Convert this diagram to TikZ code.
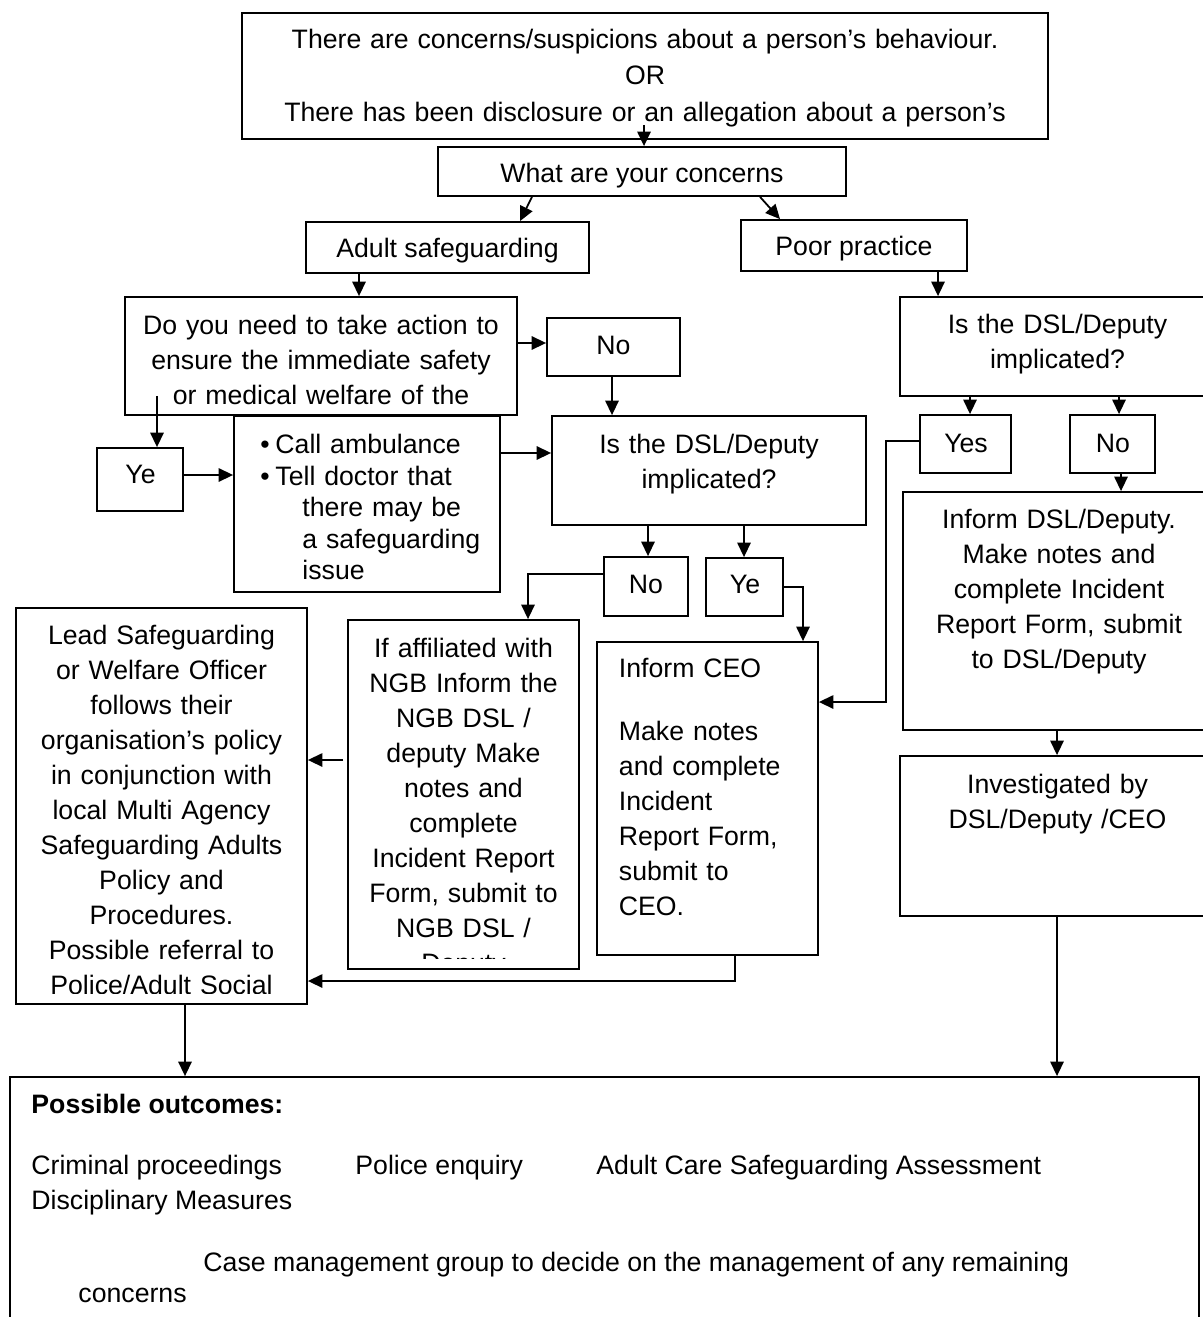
\documentclass[tikz,border=0pt]{standalone}
\usepackage{fontspec}
\setmainfont{Liberation Sans}
\usepackage{tikz}
\usetikzlibrary{arrows.meta, calc}
\tikzset{>={Triangle[length=6.5pt, width=6pt]}}
\newcommand{\pxu}{0.45pt}
\tikzset{
  box/.style={draw, line width=0.8pt, inner sep=0pt},
  txt/.style={inner sep=0pt, font=\fontsize{12}{15.75}\selectfont},
  link/.style={->, line width=0.8pt},
}

\begin{document}
\begin{tikzpicture}[x=\pxu, y=-\pxu]

        \useasboundingbox (0,0) rectangle (1203,1317);
        \clip (0,0) rectangle (1203,1317);

        % boxes
        \node[box, minimum width=806*\pxu, minimum height=126*\pxu] (concern) at (645,76) {};
        \node[box, minimum width=408*\pxu, minimum height=49*\pxu] (what) at (642,171.5) {};
        \node[box, minimum width=283*\pxu, minimum height=51*\pxu] (adult) at (447.5,247.5) {};
        \node[box, minimum width=226*\pxu, minimum height=51*\pxu] (poor) at (854,245.5) {};
        \node[box, minimum width=392*\pxu, minimum height=118*\pxu] (action) at (321,356) {};
        \node[box, minimum width=133*\pxu, minimum height=58*\pxu] (noA) at (613.5,347) {};
        \node[box, minimum width=86*\pxu, minimum height=63*\pxu] (yesA) at (140,479.5) {};
        \node[box, minimum width=266*\pxu, minimum height=176*\pxu] (ambulance) at (367,504) {};
        \node[box, minimum width=314*\pxu, minimum height=109*\pxu] (dslL) at (709,470.5) {};
        \node[box, minimum width=84*\pxu, minimum height=59*\pxu] (noL) at (646,586.5) {};
        \node[box, minimum width=77*\pxu, minimum height=58*\pxu] (yesL) at (744.5,587) {};
        \node[box, minimum width=315*\pxu, minimum height=99*\pxu] (dslR) at (1057.5,346.5) {};
        \node[box, minimum width=91*\pxu, minimum height=58*\pxu] (yesR) at (965.5,444) {};
        \node[box, minimum width=85*\pxu, minimum height=58*\pxu] (noR) at (1112.5,444) {};
        \node[box, minimum width=312*\pxu, minimum height=238*\pxu] (informR) at (1059,611) {};
        \node[box, minimum width=315*\pxu, minimum height=160*\pxu] (investR) at (1057.5,836) {};
        \node[box, minimum width=291*\pxu, minimum height=396*\pxu] (lead) at (161.5,806) {};
        \node[box, minimum width=231*\pxu, minimum height=349*\pxu] (ngb) at (463.5,794.5) {};
        \node[box, minimum width=221*\pxu, minimum height=313*\pxu] (ceo) at (707.5,798.5) {};
        \node[box, minimum width=1189*\pxu, minimum height=253*\pxu] (outcomes) at (604.5,1203.5) {};

        % texts
        \node[txt, text width=360pt, align=center, anchor=north, font=\fontsize{12}{16.4}\selectfont]
            (concernT) at (645,22.5)
            {\strut There are concerns/suspicions about a person’s behaviour.\\
             OR\\
             There has been disclosure or an allegation about a person’s};
        \node[txt, anchor=base] (whatT) at (642,183) {What are your concerns};
        \begin{scope}
            \clip (306,222) rectangle (589,263);
            \node[txt, anchor=base] (adultT) at (447.5,257) {Adult safeguarding};
        \end{scope}
        \node[txt, anchor=base] (poorT) at (854,256) {Poor practice};
        \node[txt, text width=171pt, align=center, anchor=north] (actionT) at (321,309.5)
            {\strut Do you need to take action to\\
             ensure the immediate safety\\
             or medical welfare of the};
        \node[txt, anchor=base] (noAT) at (613.5,354) {No};
        \node[txt, anchor=base] (yesAT) at (140.5,483) {Ye};
        \node[txt, text width=112pt, align=left, anchor=north west, font=\fontsize{12}{14.2}\selectfont]
            (ambulanceT) at (260,431)
            {\strut\makebox[6.75pt][l]{\textbullet}Call ambulance\\
             \makebox[6.75pt][l]{\textbullet}Tell doctor that\\
             \hspace*{18.9pt}there may be\\
             \hspace*{18.9pt}a safeguarding\\
             \hspace*{18.9pt}issue};
        \node[txt, text width=135pt, align=center, anchor=north] (dslLT) at (709,428.5)
            {\strut Is the DSL/Deputy\\ implicated?};
        \node[txt, anchor=base] (noLT) at (646,593) {No};
        \node[txt, anchor=base] (yesLT) at (745,593) {Ye};
        \node[txt, text width=135pt, align=center, anchor=north] (dslRT) at (1057.5,308.5)
            {\strut Is the DSL/Deputy\\ implicated?};
        \node[txt, anchor=base] (yesRT) at (966,452) {Yes};
        \node[txt, anchor=base] (noRT) at (1113,452) {No};
        \node[txt, text width=135pt, align=center, anchor=north] (informRT) at (1059,503.5)
            {\strut Inform DSL/Deputy.\\
             Make notes and\\
             complete Incident\\
             Report Form, submit\\
             to DSL/Deputy};
        \node[txt, text width=135pt, align=center, anchor=north] (investRT) at (1057.5,768.5)
            {\strut Investigated by\\ DSL/Deputy /CEO};
        \begin{scope}
            \clip (16,608) rectangle (307,993);
            \node[txt, text width=128pt, align=center, anchor=north] (leadT) at (161.5,619.5)
                {\strut Lead Safeguarding\\
                 or Welfare Officer\\
                 follows their\\
                 organisation’s policy\\
                 in conjunction with\\
                 local Multi Agency\\
                 Safeguarding Adults\\
                 Policy and\\
                 Procedures.\\
                 Possible referral to\\
                 Police/Adult Social};
        \end{scope}
        \begin{scope}
            \clip (348,620) rectangle (579,958);
            \node[txt, text width=101pt, align=center, anchor=north] (ngbT) at (463.5,632.5)
                {\strut If affiliated with\\
                 NGB Inform the\\
                 NGB DSL /\\
                 deputy Make\\
                 notes and\\
                 complete\\
                 Incident Report\\
                 Form, submit to\\
                 NGB DSL /\\
                 Deputy};
        \end{scope}
        \node[txt, text width=88pt, align=left, anchor=north west] (ceoT) at (618.5,652.5)
            {\strut Inform CEO\\[12.6pt]
             Make notes\\
             and complete\\
             Incident\\
             Report Form,\\
             submit to\\
             CEO.};

        \node[txt, anchor=base west, font=\fontsize{12}{15.75}\selectfont\bfseries] (possT) at (31,1113)
            {Possible outcomes:};
        \node[txt, anchor=base west] (crimT) at (31,1174) {Criminal proceedings};
        \node[txt, anchor=base west] (policeT) at (355,1174) {Police enquiry};
        \node[txt, anchor=base west] (careT) at (596,1174) {Adult Care Safeguarding Assessment};
        \node[txt, anchor=base west] (discT) at (31,1209) {Disciplinary Measures};
        \node[txt, anchor=base west] (caseT) at (203,1271)
            {Case management group to decide on the management of any remaining};
        \node[txt, anchor=base west] (concernsT) at (78,1302) {concerns};

        % connectors
        \coordinate (c1) at ($(concern.south)+(-1,-15)$);
        \draw[link] (c1) -- (c1 |- what.north);
        \draw[link] ($(what.south)+(-110,0)$) -- ($(adult.north)+(72.5,0)$);
        \draw[link] ($(what.south)+(118,0)$) -- ($(poor.north)+(-74,0)$);
        \coordinate (c2) at ($(adult.south)+(-88.5,0)$);
        \draw[link] (c2) -- (c2 |- action.north);
        \coordinate (c3) at ($(poor.south)+(84,0)$);
        \draw[link] (c3) -- (c3 |- dslR.north);

        \coordinate (c4) at ($(action.east)+(0,-13)$);
        \draw[link] (c4) -- (c4 -| noA.west);
        \coordinate (c5) at ($(action.south)+(-164,-20)$);
        \draw[link] (c5) -- (c5 |- yesA.north);
        \coordinate (c6) at ($(yesA.east)+(0,-4.5)$);
        \draw[link] (c6) -- (c6 -| ambulance.west);
        \coordinate (c7) at ($(ambulance.east)+(0,-51)$);
        \draw[link] (c7) -- (c7 -| dslL.west);
        \coordinate (c8) at ($(noA.south)+(-1.5,0)$);
        \draw[link] (c8) -- (c8 |- dslL.north);

        \coordinate (c9) at ($(dslL.south)+(-61,0)$);
        \draw[link] (c9) -- (c9 |- noL.north);
        \coordinate (c10) at ($(dslL.south)+(35,0)$);
        \draw[link] (c10) -- (c10 |- yesL.north);
        \draw[link] ($(noL.west)+(0,-12.5)$) -| ($(ngb.north)+(64.5,0)$);
        \draw[link] (yesL.east) -| ($(ceo.north)+(95.5,0)$);
        \coordinate (c11) at ($(ngb.west)+(-4,-34.5)$);
        \draw[link] (c11) -- (c11 -| lead.east);
        \draw[link] ($(ceo.south)+(27.5,0)$) |- ($(lead.east)+(0,175)$);

        \coordinate (c12) at ($(dslR.south)+(-87.5,0)$);
        \draw[link] (c12) -- (c12 |- yesR.north);
        \coordinate (c13) at ($(dslR.south)+(61.5,0)$);
        \draw[link] (c13) -- (c13 |- noR.north);
        \coordinate (c14) at ($(noR.south)+(8.5,0)$);
        \draw[link] (c14) -- (c14 |- informR.north);
        \draw[link] ($(yesR.west)+(0,-3)$) -- ++(-33,0) |- ($(ceo.east)+(0,-96.5)$);
        \coordinate (c15) at ($(informR.south)+(-2,0)$);
        \draw[link] (c15) -- (c15 |- investR.north);

        \coordinate (c16) at ($(investR.south)+(-0.5,0)$);
        \draw[link] (c16) -- (c16 |- outcomes.north);
        \coordinate (c17) at ($(lead.south)+(23.5,0)$);
        \draw[link] (c17) -- (c17 |- outcomes.north);

\end{tikzpicture}
\end{document}
